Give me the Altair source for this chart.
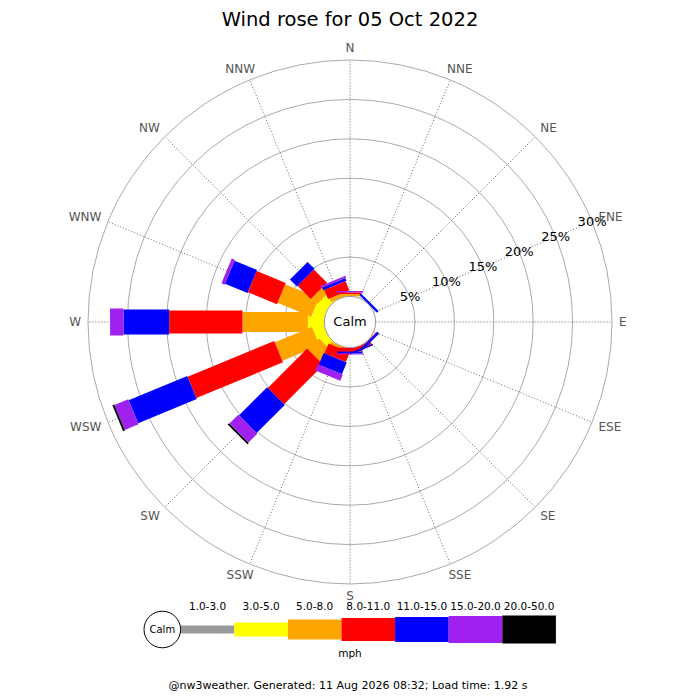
import math
import altair as alt
import pandas as pd

# ---------------- data ----------------
TITLE = "Wind rose for 05 Oct 2022"
FOOTER = "@nw3weather. Generated: 11 Aug 2026 08:32; Load time: 1.92 s"
UNIT = "mph"
CALM_TEXT = "Calm"

DIRECTIONS = ["N", "NNE", "NE", "ENE", "E", "ESE", "SE", "SSE",
              "S", "SSW", "SW", "WSW", "W", "WNW", "NW", "NNW"]
BEARINGS = [0, 22.5, 45, 67.5, 90, 112.5, 135, 157.5,
            180, 202.5, 225, 247.5, 270, 292.5, 315, 337.5]

BANDS = ["1.0-3.0", "3.0-5.0", "5.0-8.0", "8.0-11.0",
         "11.0-15.0", "15.0-20.0", "20.0-50.0"]

# percentage of time per direction (N ... NNW) in each speed band
PCT_1_3   = [0, 0, 0, 0, 0, 0, 0, 0, 0, 0, 0, 0, 0, 0, 0, 0]
PCT_3_5   = [0, 0, 0, 0, 0, 0, 0, 0, 0, 0, 1.0, 1.45, 2.1, 1.55, 1.3, 0]
PCT_5_8   = [0.3, 0, 0, 0, 0, 0, 0, 0, 0, 0.3, 1.97, 5.11, 8.3, 4.63, 1.03, 0.5]
PCT_8_11  = [0.2, 0, 0, 0, 0, 0, 0.1, 0.4, 0.5, 1.35, 7.07, 11.89, 9.3, 3.99, 2.37, 1.26]
PCT_11_15 = [0, 0, 0.3, 0, 0, 0, 0.3, 0.2, 0.25, 1.62, 5.05, 8.05, 5.8, 3.1, 1.25, 0.38]
PCT_15_20 = [0.18, 0, 0, 0, 0, 0, 0, 0, 0.12, 0.85, 1.59, 1.9, 1.7, 0.43, 0, 0.26]
PCT_20_50 = [0, 0, 0, 0, 0, 0, 0, 0, 0, 0, 0.25, 0.25, 0, 0, 0, 0]
BAND_VALUES = [PCT_1_3, PCT_3_5, PCT_5_8, PCT_8_11, PCT_11_15, PCT_15_20, PCT_20_50]

RING_PCTS = [5, 10, 15, 20, 25, 30]
RING_LABELS = ["5%", "10%", "15%", "20%", "25%", "30%"]
RING_LABEL_BEARING = 67.5

# ---------------- styles / layout ----------------
BAND_COLORS = ["#999999", "#ffff00", "#ffa500", "#ff0000", "#0000ff", "#a020f0", "#000000"]
BAND_WIDTHS = [8, 14, 20, 23, 25, 27, 28]
FONT = "DejaVu Sans"

W = H = 684
K = 7.88            # pixels per percent
CX, CY = 342, 314   # rose centre inside the chart (pixels)
R0 = 3.25           # calm circle radius, in percent units


def ux(px):
    return (px - CX) / K


def uy(py):
    return (CY - py) / K


xs = alt.Scale(domain=[ux(0), ux(W)], nice=False, zero=False)
ys = alt.Scale(domain=[uy(H), uy(0)], nice=False, zero=False)
rs = alt.Scale(type="linear", domain=[0, ux(W)], range=[0, W - CX], zero=True, nice=False)
cs = alt.Scale(domain=BANDS, range=BAND_COLORS)
ws = alt.Scale(type="ordinal", domain=BANDS, range=BAND_WIDTHS)


def X(f):
    return alt.X(f, type="quantitative", scale=xs, axis=None)


def Y(f):
    return alt.Y(f, type="quantitative", scale=ys, axis=None)


def RAD(f):
    return alt.Radius(f, type="quantitative", scale=rs, stack=None)


# ---------------- tables ----------------
rows = []
for bi, band in enumerate(BANDS):
    for di, d in enumerate(DIRECTIONS):
        rows.append({"band_idx": bi, "band": band, "direction": d,
                     "bearing": BEARINGS[di], "value": BAND_VALUES[bi][di]})
bars_df = pd.DataFrame(rows)
dirs_df = pd.DataFrame({"direction": DIRECTIONS, "bearing": BEARINGS})
rings_df = pd.DataFrame({"pct": RING_PCTS, "label": RING_LABELS})
legend_df = pd.DataFrame({"band": BANDS, "idx": list(range(len(BANDS)))})
one = pd.DataFrame({"k": [0]})

SIN = "sin(datum.bearing*PI/180)"
COS = "cos(datum.bearing*PI/180)"

# grid rings
rings = alt.Chart(rings_df).transform_calculate(
    r=f"{R0} + datum.pct", cx="0", cy="0"
).mark_arc(theta=0, theta2=6.2832, fill="transparent", stroke="#aaaaaa", strokeWidth=1).encode(
    x=X("cx"), y=Y("cy"), radius=RAD("r")
)

# spokes
spokes = alt.Chart(dirs_df).transform_calculate(
    x=f"{R0}*{SIN}", y=f"{R0}*{COS}",
    x2=f"({R0}+30)*{SIN}", y2=f"({R0}+30)*{COS}"
).mark_rule(color="#555555", strokeWidth=0.9, strokeDash=[1, 2]).encode(
    x=X("x"), y=Y("y"), x2="x2", y2="y2"
)

# stacked bars
bars = alt.Chart(bars_df).transform_window(
    cum="sum(value)", groupby=["direction"], sort=[alt.SortField("band_idx")]
).transform_calculate(
    r1=f"{R0} + datum.cum - datum.value", r2=f"{R0} + datum.cum"
).transform_calculate(
    x=f"datum.r1*{SIN}", y=f"datum.r1*{COS}",
    x2=f"datum.r2*{SIN}", y2=f"datum.r2*{COS}"
).transform_filter("datum.value > 0").mark_rule(strokeCap="butt").encode(
    x=X("x"), y=Y("y"), x2="x2", y2="y2",
    color=alt.Color("band:N", scale=cs, legend=None),
    strokeWidth=alt.StrokeWidth("band:N", scale=ws, legend=None),
)

# calm circle
calm = alt.Chart(one).transform_calculate(r=f"{R0}", cx="0", cy="0").mark_arc(
    theta=0, theta2=6.2832, fill="white", stroke="#999999", strokeWidth=1
).encode(x=X("cx"), y=Y("cy"), radius=RAD("r"))
calm_txt = alt.Chart(one).transform_calculate(cx="0", cy="0").mark_text(
    text=CALM_TEXT, font=FONT, fontSize=13, color="black"
).encode(x=X("cx"), y=Y("cy"))

# ring labels
ring_lbl = alt.Chart(rings_df).transform_calculate(
    r=f"{R0} + datum.pct",
).transform_calculate(
    x=f"datum.r*sin({RING_LABEL_BEARING}*PI/180)", y=f"datum.r*cos({RING_LABEL_BEARING}*PI/180)"
).mark_text(font=FONT, fontSize=13, color="black").encode(
    x=X("x"), y=Y("y"), text="label:N"
)

# direction labels: east side left-aligned, west side right-aligned, near-vertical centred
LR_SIDE = 269 / K
LR_MID = 287 / K
LRY = 274 / K
dir_base = alt.Chart(dirs_df).transform_calculate(s=SIN, c=COS)
dir_east = dir_base.transform_filter("datum.s > 0.5").transform_calculate(
    x=f"{LR_SIDE}*datum.s", y=f"{LRY}*datum.c"
).mark_text(font=FONT, fontSize=12, color="#555555", align="left").encode(
    x=X("x"), y=Y("y"), text="direction:N"
)
dir_west = dir_base.transform_filter("datum.s < -0.5").transform_calculate(
    x=f"{LR_SIDE}*datum.s", y=f"{LRY}*datum.c"
).mark_text(font=FONT, fontSize=12, color="#555555", align="right").encode(
    x=X("x"), y=Y("y"), text="direction:N"
)
dir_mid = dir_base.transform_filter("abs(datum.s) <= 0.5").transform_calculate(
    x=f"{LR_MID}*datum.s", y=f"{LRY}*datum.c"
).mark_text(font=FONT, fontSize=12, color="#555555", align="center").encode(
    x=X("x"), y=Y("y"), text="direction:N"
)

# title
title = alt.Chart(one).transform_calculate(x=f"{ux(342)}", y=f"{uy(11.5)}").mark_text(
    text=TITLE, font=FONT, fontSize=19.5, color="black"
).encode(x=X("x"), y=Y("y"))

# legend
LX0, LSTEP, LY = 172.7, 53.6, 621.5
leg_bars = alt.Chart(legend_df).transform_calculate(
    x=f"{ux(LX0)} + datum.idx*{LSTEP / K}",
    x2=f"{ux(LX0)} + (datum.idx+1)*{LSTEP / K}",
    y=f"{uy(LY)}"
).mark_rule(strokeCap="butt").encode(
    x=X("x"), x2="x2", y=Y("y"),
    color=alt.Color("band:N", scale=cs, legend=None),
    strokeWidth=alt.StrokeWidth("band:N", scale=ws, legend=None),
)
leg_lbl = alt.Chart(legend_df).transform_calculate(
    x=f"{ux(LX0)} + (datum.idx+0.5)*{LSTEP / K}", y=f"{uy(598.5)}"
).mark_text(font=FONT, fontSize=10.5, color="black").encode(
    x=X("x"), y=Y("y"), text="band:N"
)
leg_calm = alt.Chart(one).transform_calculate(
    x=f"{ux(154.3)}", y=f"{uy(LY)}", r=f"{18.3 / K}"
).mark_arc(theta=0, theta2=6.2832, fill="white", stroke="black", strokeWidth=1).encode(
    x=X("x"), y=Y("y"), radius=RAD("r")
)
leg_calm_txt = alt.Chart(one).transform_calculate(x=f"{ux(154.3)}", y=f"{uy(LY)}").mark_text(
    text=CALM_TEXT, font=FONT, fontSize=10, color="black"
).encode(x=X("x"), y=Y("y"))
unit_txt = alt.Chart(one).transform_calculate(x=f"{ux(342)}", y=f"{uy(645.5)}").mark_text(
    text=UNIT, font=FONT, fontSize=10.5, color="black"
).encode(x=X("x"), y=Y("y"))
footer = alt.Chart(one).transform_calculate(x=f"{ux(340)}", y=f"{uy(677.5)}").mark_text(
    text=FOOTER, font=FONT, fontSize=11, color="black"
).encode(x=X("x"), y=Y("y"))

chart = alt.layer(
    rings, spokes, bars, calm, calm_txt, ring_lbl, dir_east, dir_west, dir_mid, title,
    leg_bars, leg_calm, leg_calm_txt, leg_lbl, unit_txt, footer
).properties(
    width=W, height=H, autosize="none", padding=0
).configure_view(stroke=None)

chart.save("out.html", embed_options={"renderer": "svg", "actions": False})
